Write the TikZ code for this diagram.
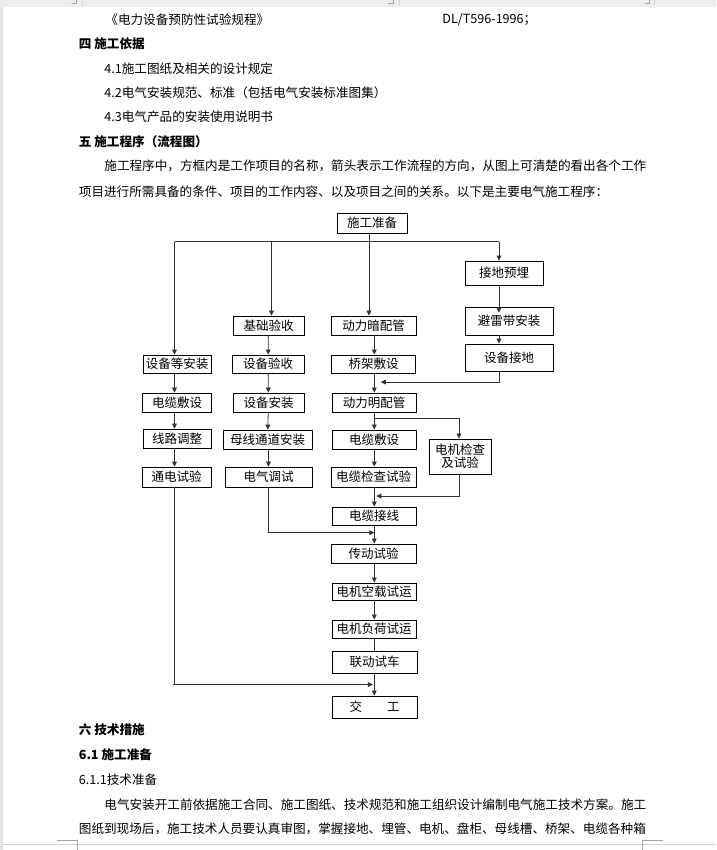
\documentclass[tikz,border=0pt]{standalone}
\usepackage{fontspec}
\setmainfont{Noto Sans CJK SC}
\usetikzlibrary{arrows.meta,calc}

\begin{document}
\begin{tikzpicture}[x=1pt,y=-1pt,line width=.8,
    box/.style 2 args={draw,line width=.9,inner sep=0,align=center,
      font=\fontsize{12.5}{15}\selectfont,minimum width=#1,minimum height=#2},
    txt/.style={anchor=west,inner sep=0,font=\fontsize{12.6}{15}\selectfont},
    hd/.style={anchor=west,inner sep=0,font=\fontsize{12.6}{15}\selectfont\bfseries},
    ln/.style={draw=black!80},
    arr/.style={ln,-{Triangle[length=5pt,width=4.8pt]}},
    crop/.style={draw=black!35,line width=.7}]
    % page
    \useasboundingbox (0,0) rectangle (716,850);
    \fill[white] (0,0) rectangle (716,850);
    \fill[black!7] (0,0) rectangle (716,7);
    \fill[black!11] (0,7) rectangle (3,850);
    \draw[crop] (71.5,3.3) -- (76.5,3.3) -- (76.5,0);
    \draw[crop] (388,3.3) -- (393,3.3) -- (393,0);
    \draw[crop] (644.5,3.3) -- (649.5,3.3) -- (649.5,0);
    \draw[black!15,line width=.6] (82.7,0) -- (82.7,6) (399.3,0) -- (399.3,6) (654,0) -- (654,6);
    \draw[black!18,line width=.7] (3,844.3) -- (716,844.3);
    \draw[crop] (57,840) -- (77.7,840) -- (77.7,850);
    \draw[crop] (663,840) -- (642.3,840) -- (642.3,850);

    % text above
    \node[txt] (std) at (105,20) {《电力设备预防性试验规程》};
    \node[txt] (stdno) at (442,20) {DL/T596-1996；};
    \node[hd] (h4) at (78.5,43.5) {四 施工依据};
    \node[txt] (i41) at (104,68.5) {4.1施工图纸及相关的设计规定};
    \node[txt] (i42) at (104,92.5) {4.2电气安装规范、标准（包括电气安装标准图集）};
    \node[txt] (i43) at (104,117) {4.3电气产品的安装使用说明书};
    \node[hd] (h5) at (78.5,141.5) {五 施工程序（流程图）};
    \node[txt] (p1) at (104,165.5) {施工程序中，方框内是工作项目的名称，箭头表示工作流程的方向，从图上可清楚的看出各个工作};
    \node[txt] (p2) at (78.5,191.5) {项目进行所需具备的条件、项目的工作内容、以及项目之间的关系。以下是主要电气施工程序：};

    % flow chart
    \node[box={70}{20}] (prep) at (372,223) {施工准备};
    \node[box={78}{24}] (jddy) at (504,273) {接地预埋};
    \node[box={88}{28}] (blda) at (509,321) {避雷带安装};
    \node[box={88}{27}] (sbjd) at (509,357.5) {设备接地};
    \node[box={71}{19}] (jcys) at (268.5,325.5) {基础验收};
    \node[box={85}{19}] (dlap) at (373.5,325.5) {动力暗配管};
    \node[box={68}{18}] (sbdaz) at (177,364) {设备等安装};
    \node[box={72}{18}] (sbys) at (268,364) {设备验收};
    \node[box={84}{18}] (qjfs) at (373.5,364) {桥架敷设};
    \node[box={69}{19}] (dlfsa) at (177,402.5) {电缆敷设};
    \node[box={71}{19}] (sbaz) at (268.5,402.5) {设备安装};
    \node[box={84}{19}] (dlmp) at (374,402.5) {动力明配管};
    \node[box={68}{19}] (xltz) at (177,438.5) {线路调整};
    \node[box={89}{19}] (mxtd) at (267.5,439.5) {母线通道安装};
    \node[box={84}{19}] (dlfsb) at (374,439.5) {电缆敷设};
    \node[box={62}{35}] (djjc) at (460,456.5) {电机检查\\[-2pt]及试验};
    \node[box={69}{20}] (tdsy) at (176.5,477) {通电试验};
    \node[box={87}{20}] (dqts) at (268.5,477) {电气调试};
    \node[box={85}{20}] (dljc) at (373.5,477) {电缆检查试验};
    \node[box={84}{18}] (dljx) at (374,516) {电缆接线};
    \node[box={85}{19}] (cdsy) at (373.5,553.5) {传动试验};
    \node[box={84}{17}] (kzsy) at (374,591.5) {电机空载试运};
    \node[box={84}{18}] (fhsy) at (374,629) {电机负荷试运};
    \node[box={85}{22}] (ldsc) at (374.5,662) {联动试车};
    \node[box={85}{22}] (jg) at (374.5,707) {交\quad\quad 工};

    \coordinate (bus) at (0,241.7);
    \coordinate (cL) at (174.5,0);
    \coordinate (cA) at (271.5,0);
    \coordinate (cB) at (369,0);
    \coordinate (cR) at (499,0);
    \coordinate (cM) at (374.3,0);

    \draw[ln] (cL |- bus) -- (cR |- bus);
    \draw[ln] (prep.south -| cB) -- (cB |- bus);
    \draw[arr] (cL |- bus) -- (sbdaz.north -| cL);
    \draw[arr] (cA |- bus) -- (jcys.north -| cA);
    \draw[arr] (cB |- bus) -- (dlap.north -| cB);
    \draw[arr] (cR |- bus) -- (jddy.north -| cR);

    % left columns
    \draw[arr] (sbdaz.south -| cL) -- (dlfsa.north -| cL);
    \draw[arr] (dlfsa.south -| cL) -- (xltz.north -| cL);
    \draw[arr] (xltz.south -| cL) -- (tdsy.north -| cL);
    \draw[arr] (jcys) -- (sbys);
    \draw[arr] (sbys) -- (sbaz);
    \draw[arr] (sbaz) -- (mxtd);
    \draw[arr] (mxtd.south -| sbaz) -- (dqts.north -| sbaz);

    % right column
    \draw[arr] (jddy.south -| cR) -- ([yshift=-6pt]blda.north -| cR);
    \draw[arr] (blda.south -| cR) -- (sbjd.north -| cR);

    % middle column
    \draw[arr] (dlap.south -| cM) -- (qjfs.north -| cM);
    \draw[arr] (qjfs.south -| cM) -- (dlmp.north -| cM);
    \draw[arr] (dlmp.south -| cM) -- (dlfsb.north -| cM);
    \draw[arr] (dlfsb.south -| cM) -- (dljc.north -| cM);
    \draw[arr] (dljc.south -| cM) -- (dljx.north -| cM);
    \draw[arr] (dljx.south -| cM) -- (cdsy.north -| cM);
    \draw[arr] (cdsy.south -| cM) -- (kzsy.north -| cM);
    \draw[arr] (kzsy.south -| cM) -- (fhsy.north -| cM);
    \draw[ln] (fhsy.south -| cM) -- (ldsc.north -| cM);
    \draw[arr] (ldsc.south -| cM) -- (jg.north -| cM);

    % side joins
    \coordinate (j1) at ($(qjfs.south)!.45!(dlmp.north)$);
    \draw[arr] (sbjd.south -| cR) |- ([xshift=6.5pt]j1 -| cM);
    \coordinate (j2) at ([yshift=-6pt]dlmp.south -| cM);
    \draw[arr] (j2) -| ([xshift=-1pt]djjc.north);
    \coordinate (j3) at ($(dljc.south)!.45!(dljx.north)$);
    \draw[arr] ([xshift=-1pt]djjc.south) |- ([xshift=2pt]j3 -| cM);
    \coordinate (j4) at ($(dljx.south)!.4!(cdsy.north)$);
    \draw[arr] (dqts.south) |- (j4 -| cM);
    \coordinate (j5) at ($(ldsc.south)!.5!(jg.north)$);
    \draw[ln] ([xshift=-2pt]j5 -| cL) -- (j5 -| cL);
    \draw[ln] (tdsy.south -| cL) -- (j5 -| cL);
    \draw[arr] (j5 -| cL) -- ([xshift=-1.5pt]j5 -| cM);

    % text below
    \node[hd] (h6) at (78.5,730) {六 技术措施};
    \node[hd] (h61) at (78.5,755) {6.1 施工准备};
    \node[txt] (h611) at (78.5,780) {6.1.1技术准备};
    \node[txt] (p3) at (104,805) {电气安装开工前依据施工合同、施工图纸、技术规范和施工组织设计编制电气施工技术方案。施工};
    \node[txt] (p4) at (78.5,828.5) {图纸到现场后，施工技术人员要认真审图，掌握接地、埋管、电机、盘柜、母线槽、桥架、电缆各种箱};
\end{tikzpicture}
\end{document}
